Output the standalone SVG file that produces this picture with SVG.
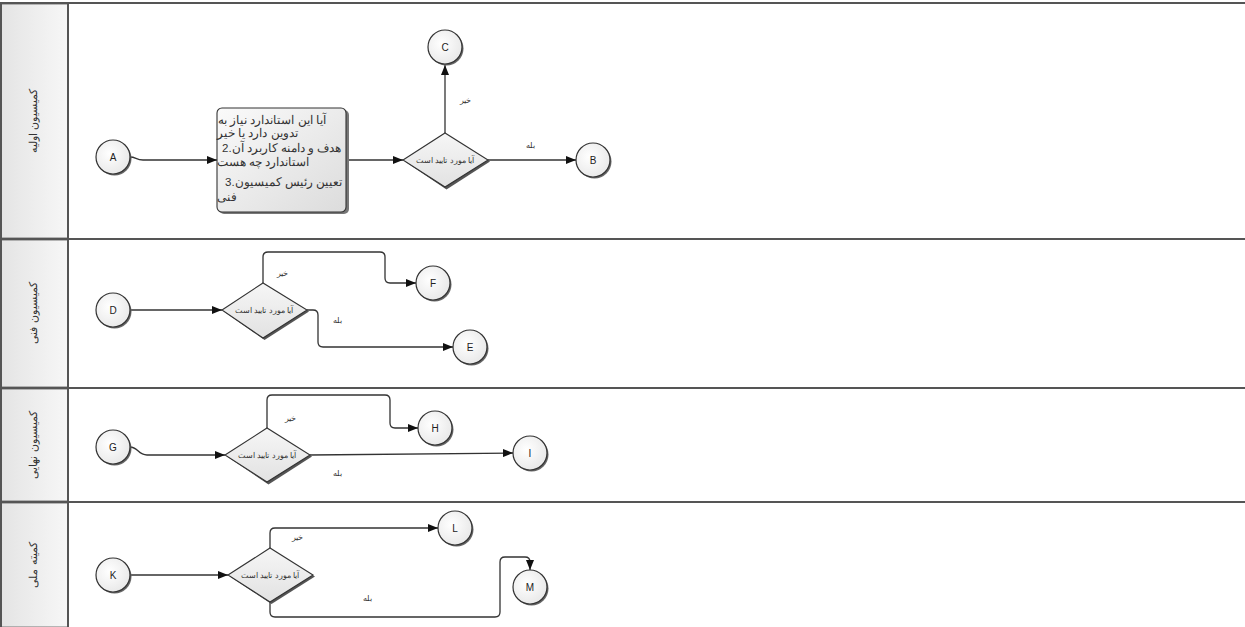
<svg xmlns="http://www.w3.org/2000/svg" width="1245" height="627" viewBox="0 0 1245 627">
<style>
.lane{fill:none;stroke:#555;stroke-width:2}
.hdr{fill:url(#hg);stroke:#777;stroke-width:1}
.lt{font-family:"Liberation Sans",Arial,sans-serif;font-size:11px;fill:#333;text-anchor:middle}
.c{fill:url(#cg);stroke:#333;stroke-width:1.2}
.cs{fill:#666}
.cl{font-family:"Liberation Sans",Arial,sans-serif;font-size:10px;fill:#222;text-anchor:middle}
.dm{fill:url(#dg);stroke:#333;stroke-width:1.1}
.ds{fill:#555}
.dt{font-family:"Liberation Sans",Arial,sans-serif;font-size:7.8px;fill:#333;text-anchor:middle}
.bt{font-family:"Liberation Sans",Arial,sans-serif;font-size:11.5px;fill:#333}
.el{font-family:"Liberation Sans",Arial,sans-serif;font-size:8px;fill:#333;text-anchor:middle}
.cn{fill:none;stroke:#333;stroke-width:1.3;marker-end:url(#ah)}
</style>
<defs>
<linearGradient id="hg" x1="0" y1="0" x2="1" y2="0"><stop offset="0" stop-color="#e4e4e4"/><stop offset="1" stop-color="#f7f7f7"/></linearGradient>
<radialGradient id="cg" cx="0.4" cy="0.4" r="0.7"><stop offset="0" stop-color="#ffffff"/><stop offset="1" stop-color="#e6e6e6"/></radialGradient>
<linearGradient id="dg" x1="0" y1="0" x2="0" y2="1"><stop offset="0" stop-color="#f6f6f6"/><stop offset="1" stop-color="#e2e2e2"/></linearGradient>
<linearGradient id="bg" x1="0" y1="0" x2="1" y2="1"><stop offset="0" stop-color="#fafafa"/><stop offset="1" stop-color="#dcdcdc"/></linearGradient>
<marker id="ah" viewBox="0 0 10 8" refX="10" refY="4" markerWidth="10" markerHeight="8" markerUnits="userSpaceOnUse" orient="auto"><path d="M0,0 L10,4 L0,8 z" fill="#111"/></marker>
</defs>
<rect width="1245" height="627" fill="#ffffff"/>

<g id="lanes">
<rect class="hdr" x="1" y="4" width="67" height="234"/>
<rect class="hdr" x="1" y="240" width="67" height="147"/>
<rect class="hdr" x="1" y="389" width="67" height="112"/>
<rect class="hdr" x="1" y="503" width="67" height="124"/>
<line class="lane" x1="0" y1="3" x2="1245" y2="3"/>
<line class="lane" x1="0" y1="239" x2="1245" y2="239"/>
<line class="lane" x1="0" y1="388" x2="1245" y2="388"/>
<line class="lane" x1="0" y1="502" x2="1245" y2="502"/>
<line class="lane" x1="68" y1="3" x2="68" y2="627"/>
<line class="lane" x1="1" y1="3" x2="1" y2="627"/>
<text class="lt" transform="translate(37,121) rotate(-90)">کمیسیون اولیه</text>
<text class="lt" transform="translate(37,313) rotate(-90)">کمیسیون فنی</text>
<text class="lt" transform="translate(37,445) rotate(-90)">کمیسیون نهایی</text>
<text class="lt" transform="translate(37,565) rotate(-90)">کمیته ملی</text>
</g>

<g id="connectors">
<path class="cn" d="M130,157 C136,157 136,160 143,160 L217,160"/>
<path class="cn" d="M347,160 L403,160"/>
<path class="cn" d="M445,133 L445,65"/>
<path class="cn" d="M488,160 L576,160"/>
<path class="cn" d="M130,310 L222,310"/>
<path class="cn" d="M263,283 L263,257 Q263,252 268,252 L380,252 Q385,252 385,257 L385,278 Q385,283 390,283 L416,283"/>
<path class="cn" d="M307,310 L313,310 Q318,310 318,315 L318,342 Q318,347 323,347 L453,347"/>
<path class="cn" d="M130,447 C138,447 138,455 147,455 L225,455"/>
<path class="cn" d="M267,428 L267,400 Q267,395 272,395 L385,395 Q390,395 390,400 L390,423 Q390,428 395,428 L418,428"/>
<path class="cn" d="M310,455 L513,453"/>
<path class="cn" d="M130,575 L228,575"/>
<path class="cn" d="M270,548 L270,533 Q270,528 275,528 L438,528"/>
<path class="cn" d="M270,602 L270,612 Q270,617 275,617 L495,617 Q500,617 500,612 L500,562 Q500,557 505,557 L525,557 Q530,557 530,562 L530,570"/>
<text class="el" x="465" y="103">خیر</text>
<text class="el" x="530" y="148">بله</text>
<text class="el" x="282" y="276">خیر</text>
<text class="el" x="337" y="323">بله</text>
<text class="el" x="290" y="421">خیر</text>
<text class="el" x="337" y="476">بله</text>
<text class="el" x="297" y="540">خیر</text>
<text class="el" x="367" y="601">بله</text>
</g>

<g id="nodeA"><circle class="cs" cx="114.5" cy="158.5" r="17"/><circle class="c" cx="113" cy="157" r="17"/><text class="cl" x="113" y="161">A</text></g>
<g id="task1">
<rect x="219" y="110" width="130" height="104" rx="5" fill="#777"/>
<rect x="217" y="108" width="129" height="104" rx="5" fill="url(#bg)" stroke="#333" stroke-width="1.1"/>
<text class="bt" x="218" y="124">آیا این استاندارد نیاز به</text>
<text class="bt" x="217" y="137">تدوین دارد یا خیر</text>
<text class="bt" x="222" y="152">2.هدف و دامنه کاربرد آن</text>
<text class="bt" x="217" y="166">استاندارد چه هست</text>
<text class="bt" x="225" y="186">3.تعیین رئیس کمیسیون</text>
<text class="bt" x="217" y="201">فنی</text>
</g>
<g id="dec1"><path class="ds" d="M405,161.5 L446.5,135 L490,161.5 L446.5,189.5 z"/><path class="dm" d="M403,160 L445,133 L488,160 L445,187 z"/><text class="dt" x="445" y="163">آیا مورد تایید است</text></g>
<g id="nodeC"><circle class="cs" cx="446.5" cy="48.5" r="17"/><circle class="c" cx="445" cy="47" r="17"/><text class="cl" x="445" y="51">C</text></g>
<g id="nodeB"><circle class="cs" cx="594.5" cy="161.5" r="17"/><circle class="c" cx="593" cy="160" r="17"/><text class="cl" x="593" y="164">B</text></g>

<g id="nodeD"><circle class="cs" cx="114.5" cy="311.5" r="17"/><circle class="c" cx="113" cy="310" r="17"/><text class="cl" x="113" y="314">D</text></g>
<g id="dec2"><path class="ds" d="M224,311.5 L264.5,285 L309,311.5 L264.5,340 z"/><path class="dm" d="M222,310 L263,283 L307,310 L263,338 z"/><text class="dt" x="264" y="313">آیا مورد تایید است</text></g>
<g id="nodeF"><circle class="cs" cx="434.5" cy="284.5" r="17"/><circle class="c" cx="433" cy="283" r="17"/><text class="cl" x="433" y="287">F</text></g>
<g id="nodeE"><circle class="cs" cx="471.5" cy="348.5" r="17"/><circle class="c" cx="470" cy="347" r="17"/><text class="cl" x="470" y="351">E</text></g>

<g id="nodeG"><circle class="cs" cx="114.5" cy="448.5" r="17"/><circle class="c" cx="113" cy="447" r="17"/><text class="cl" x="113" y="451">G</text></g>
<g id="dec3"><path class="ds" d="M227,456.5 L268.5,430 L312,456.5 L268.5,484.5 z"/><path class="dm" d="M225,455 L267,428 L310,455 L267,482 z"/><text class="dt" x="267" y="458">آیا مورد تایید است</text></g>
<g id="nodeH"><circle class="cs" cx="436.5" cy="429.5" r="17"/><circle class="c" cx="435" cy="428" r="17"/><text class="cl" x="435" y="432">H</text></g>
<g id="nodeI"><circle class="cs" cx="531.5" cy="454.5" r="17"/><circle class="c" cx="530" cy="453" r="17"/><text class="cl" x="530" y="457">I</text></g>

<g id="nodeK"><circle class="cs" cx="114.5" cy="576.5" r="17"/><circle class="c" cx="113" cy="575" r="17"/><text class="cl" x="113" y="579">K</text></g>
<g id="dec4"><path class="ds" d="M230,576.5 L271.5,550 L315,576.5 L271.5,604 z"/><path class="dm" d="M228,575 L270,548 L313,575 L270,602 z"/><text class="dt" x="270" y="578">آیا مورد تایید است</text></g>
<g id="nodeL"><circle class="cs" cx="456.5" cy="529.5" r="17"/><circle class="c" cx="455" cy="528" r="17"/><text class="cl" x="455" y="532">L</text></g>
<g id="nodeM"><circle class="cs" cx="531.5" cy="588.5" r="17"/><circle class="c" cx="530" cy="587" r="17"/><text class="cl" x="530" y="591">M</text></g>
</svg>
